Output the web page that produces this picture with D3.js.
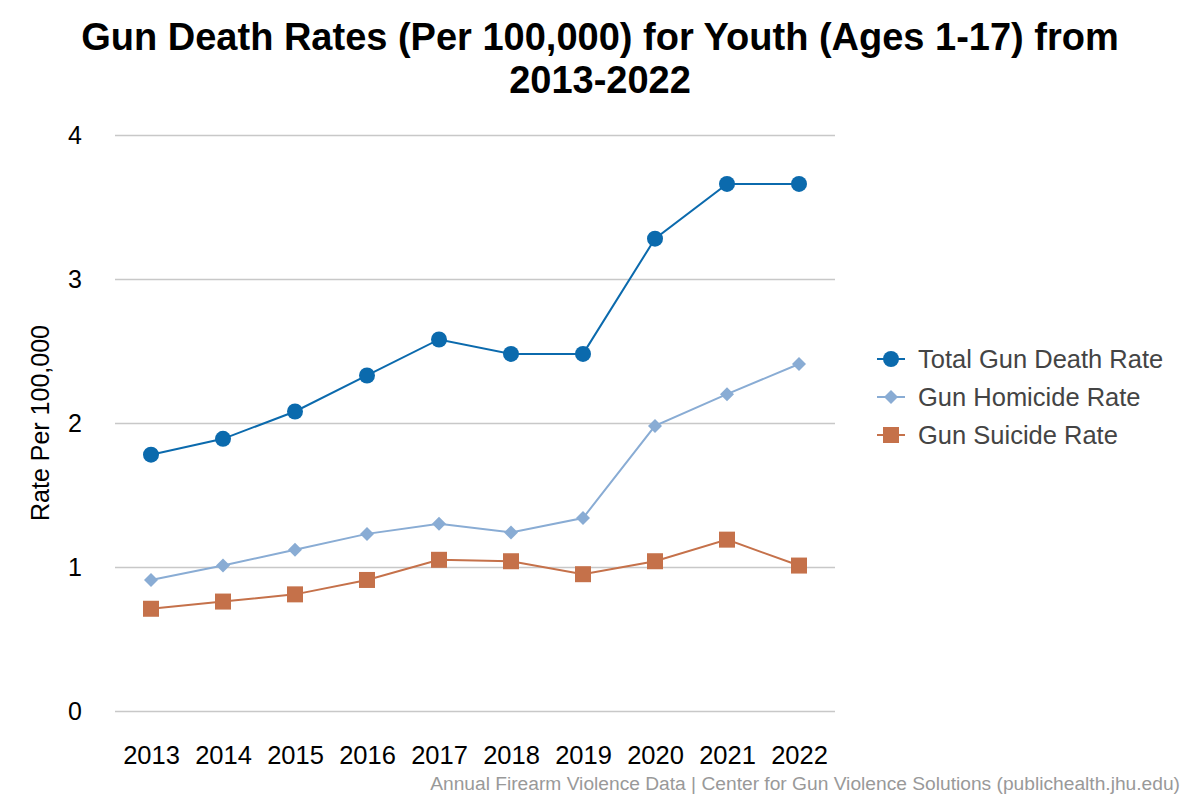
<!DOCTYPE html>
<html><head><meta charset="utf-8">
<script src="https://cdn.jsdelivr.net/npm/d3@7"></script>
<style>body{margin:0;background:#fff;} svg{display:block;font-family:"Liberation Sans",Arial,sans-serif;}</style>
</head><body>
<svg id="c" width="1200" height="800"></svg>
<script>
const years = ["2013","2014","2015","2016","2017","2018","2019","2020","2021","2022"];
const totalRate = [1.78, 1.89, 2.08, 2.33, 2.58, 2.48, 2.48, 3.28, 3.66, 3.66];
const homicideRate = [0.91, 1.01, 1.12, 1.23, 1.30, 1.24, 1.34, 1.98, 2.20, 2.41];
const suicideRate = [0.71, 0.76, 0.81, 0.91, 1.05, 1.04, 0.95, 1.04, 1.19, 1.01];
const yTicks = [0, 1, 2, 3, 4];
const seriesNames = ["Total Gun Death Rate", "Gun Homicide Rate", "Gun Suicide Rate"];

const series = [
  {name: seriesNames[0], values: totalRate, color: "#0b6aad", shape: "circle", width: 2},
  {name: seriesNames[1], values: homicideRate, color: "#89acd4", shape: "diamond", width: 2},
  {name: seriesNames[2], values: suicideRate, color: "#c5714a", shape: "square", width: 2}
];

const svg = d3.select("#c");
const L = 115, R = 835, T = 135, B = 711;
const x = d3.scalePoint().domain(years).range([L, R]).padding(0.5);
const y = d3.scaleLinear().domain([0, 4]).range([B, T]);

// title
svg.append("text").attr("x", 600).attr("y", 50).attr("text-anchor", "middle")
  .attr("font-size", 38).attr("font-weight", "bold").attr("fill", "#000")
  .text("Gun Death Rates (Per 100,000) for Youth (Ages 1-17) from");
svg.append("text").attr("x", 600).attr("y", 93).attr("text-anchor", "middle")
  .attr("font-size", 38).attr("font-weight", "bold").attr("fill", "#000")
  .text("2013-2022");

// grid + y axis
const yAxis = d3.axisLeft(y).tickValues(yTicks).tickSize(-(R - L)).tickPadding(33).tickFormat(d3.format("d"));
const gy = svg.append("g").attr("transform", `translate(${L},0)`).call(yAxis);
gy.select(".domain").remove();
gy.selectAll(".tick line").attr("stroke", "#c8c8c8").attr("stroke-width", 1.5);
gy.selectAll(".tick text").attr("font-size", 25).attr("fill", "#000").attr("font-family", "Liberation Sans, Arial, sans-serif");

// x axis
const xAxis = d3.axisBottom(x).tickSize(0).tickPadding(35);
const gx = svg.append("g").attr("transform", `translate(0,${B})`).call(xAxis);
gx.select(".domain").remove();
gx.selectAll(".tick text").attr("font-size", 25.5).attr("fill", "#000").attr("font-family", "Liberation Sans, Arial, sans-serif");

// y title
svg.append("text").attr("transform", `translate(49,${(T + B) / 2}) rotate(-90)`)
  .attr("text-anchor", "middle").attr("font-size", 25).attr("fill", "#000")
  .text("Rate Per 100,000");

const line = d3.line().x((d, i) => x(years[i])).y(d => y(d));

function drawMarker(g, shape, color, cx, cy) {
  if (shape === "circle") {
    g.append("circle").attr("cx", cx).attr("cy", cy).attr("r", 8).attr("fill", color);
  } else if (shape === "diamond") {
    g.append("path").attr("transform", `translate(${cx},${cy})`)
      .attr("d", "M0,-7L7,0L0,7L-7,0Z").attr("fill", color);
  } else {
    g.append("rect").attr("x", cx - 8).attr("y", cy - 8).attr("width", 16).attr("height", 16).attr("fill", color);
  }
}

series.forEach(s => {
  svg.append("path").datum(s.values).attr("d", line).attr("fill", "none")
    .attr("stroke", s.color).attr("stroke-width", s.width);
  const g = svg.append("g");
  s.values.forEach((v, i) => drawMarker(g, s.shape, s.color, x(years[i]), y(v)));
});

// legend
series.forEach((s, i) => {
  const ly = 359 + i * 38;
  const g = svg.append("g");
  g.append("line").attr("x1", 877).attr("x2", 905).attr("y1", ly).attr("y2", ly)
    .attr("stroke", s.color).attr("stroke-width", 2);
  drawMarker(g, s.shape, s.color, 891, ly);
  g.append("text").attr("x", 918).attr("y", ly + 9).attr("font-size", 25.5).attr("fill", "#444").text(s.name);
});

// footer
svg.append("text").attr("x", 1180).attr("y", 790).attr("text-anchor", "end")
  .attr("font-size", 19.2).attr("fill", "#999")
  .text("Annual Firearm Violence Data | Center for Gun Violence Solutions (publichealth.jhu.edu)");
</script>
</body></html>
